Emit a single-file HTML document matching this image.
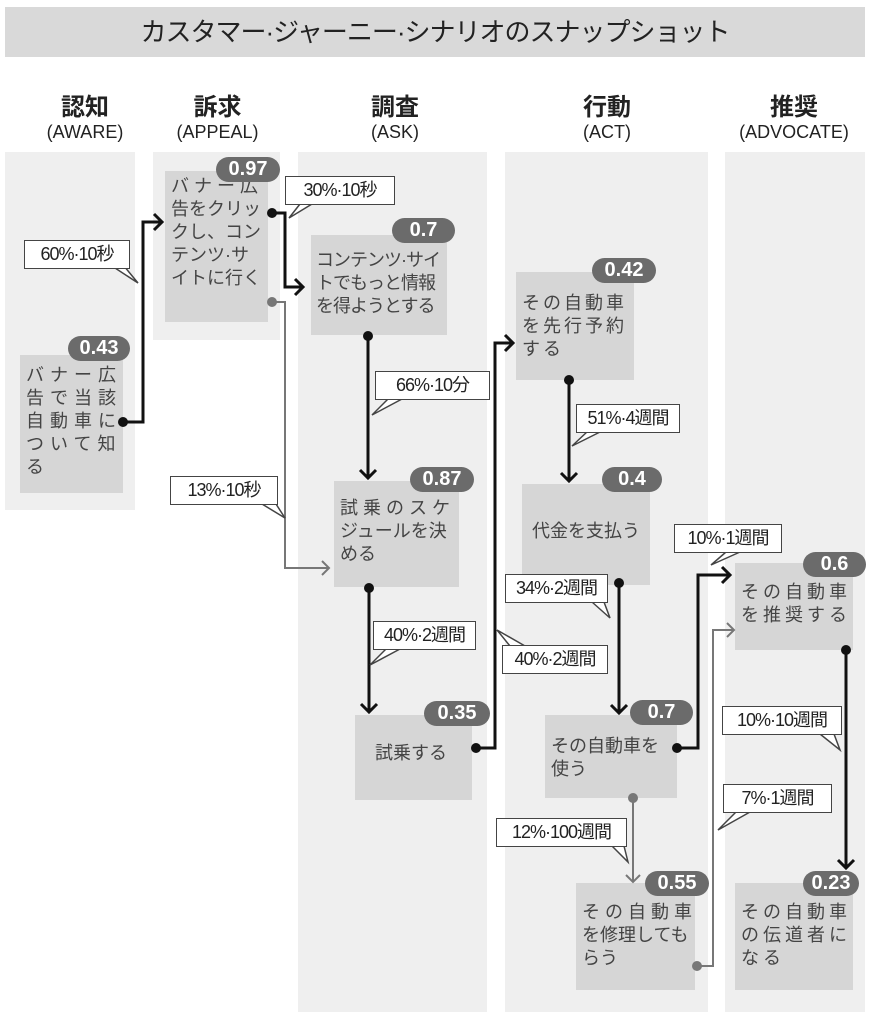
<!DOCTYPE html>
<html><head><meta charset="utf-8"><style>
*{margin:0;padding:0;box-sizing:border-box}
body{width:870px;height:1024px;background:#fff;position:relative;overflow:hidden;font-family:"Liberation Sans","Noto Sans CJK JP",sans-serif;color:#333}
.a{position:absolute}
.title{left:5px;top:7px;width:860px;height:50px;background:#d9d9d9;font-size:26px;text-align:center;line-height:50px;color:#222;letter-spacing:-1px}
.hd{text-align:center;color:#222}
.hd b{display:block;font-size:24px;line-height:27px}
.hd span{display:block;font-size:18px;line-height:22px}
.col{background:#efefef}
.n{background:#d6d6d6;font-size:18px;line-height:23px;color:#444;padding:6px 6px;white-space:nowrap}
.bd{background:#6b6b6b;color:#fff;border-radius:13px;font-size:20px;line-height:25px;height:25px;text-align:center;font-weight:bold}
.lb{background:#fff;border:1.5px solid #444;font-size:18px;line-height:26px;height:29px;text-align:center;color:#222;letter-spacing:-1px;white-space:nowrap}
</style></head><body>
<div class="a title">カスタマー·ジャーニー·シナリオのスナップショット</div>
<div class="a hd" style="left:5px;top:94px;width:160px"><b>認知</b><span>(AWARE)</span></div>
<div class="a hd" style="left:140px;top:94px;width:155px"><b>訴求</b><span>(APPEAL)</span></div>
<div class="a hd" style="left:315px;top:94px;width:160px"><b>調査</b><span>(ASK)</span></div>
<div class="a hd" style="left:527px;top:94px;width:160px"><b>行動</b><span>(ACT)</span></div>
<div class="a hd" style="left:718px;top:94px;width:152px"><b>推奨</b><span>(ADVOCATE)</span></div>

<div class="a col" style="left:5px;top:152px;width:130px;height:358px"></div>
<div class="a col" style="left:153px;top:152px;width:127px;height:188px"></div>
<div class="a col" style="left:298px;top:152px;width:189px;height:860px"></div>
<div class="a col" style="left:505px;top:152px;width:203px;height:860px"></div>
<div class="a col" style="left:725px;top:152px;width:140px;height:860px"></div>

<div class="a n" style="left:20px;top:355px;width:103px;height:138px;letter-spacing:6px;padding-top:9px">バナー広<br>告で当該<br>自動車に<br>ついて知<br>る</div>
<div class="a bd" style="left:68px;top:336px;width:62px">0.43</div>
<div class="a n" style="left:165px;top:171px;width:103px;height:151px;padding-top:4px"><span style="letter-spacing:5px">バナー広</span><br>告をクリッ<br>クし、コン<br>テンツ·サ<br>イトに行く</div>
<div class="a bd" style="left:216px;top:157px;width:64px">0.97</div>
<div class="a n" style="left:311px;top:235px;width:136px;height:100px;letter-spacing:-1px;padding-top:14px;padding-left:5px">コンテンツ·サイ<br>トでもっと情報<br>を得ようとする</div>
<div class="a bd" style="left:392px;top:218px;width:63px">0.7</div>
<div class="a n" style="left:334px;top:481px;width:125px;height:106px;padding-top:16px"><span style="letter-spacing:5px">試乗のスケ</span><br>ジュールを決<br>める</div>
<div class="a bd" style="left:410px;top:467px;width:64px">0.87</div>
<div class="a n" style="left:355px;top:715px;width:117px;height:85px;padding-top:27px;padding-left:20px">試乗する</div>
<div class="a bd" style="left:424px;top:701px;width:66px">0.35</div>
<div class="a n" style="left:516px;top:272px;width:118px;height:108px;letter-spacing:3px;padding-top:20px">その自動車<br>を先行予約<br>する</div>
<div class="a bd" style="left:592px;top:258px;width:64px">0.42</div>
<div class="a n" style="left:522px;top:484px;width:128px;height:101px;padding-top:36px;padding-left:10px">代金を支払う</div>
<div class="a bd" style="left:602px;top:467px;width:60px">0.4</div>
<div class="a n" style="left:545px;top:715px;width:132px;height:83px;padding-top:20px">その自動車を<br>使う</div>
<div class="a bd" style="left:630px;top:700px;width:63px">0.7</div>
<div class="a n" style="left:576px;top:883px;width:119px;height:107px;padding-top:18px"><span style="letter-spacing:5px">その自動車</span><br>を修理しても<br>らう</div>
<div class="a bd" style="left:645px;top:871px;width:64px">0.55</div>
<div class="a n" style="left:735px;top:563px;width:118px;height:87px;letter-spacing:4px;padding-top:18px">その自動車<br>を推奨する</div>
<div class="a bd" style="left:803px;top:552px;width:63px">0.6</div>
<div class="a n" style="left:735px;top:883px;width:118px;height:107px;letter-spacing:4px;padding-top:18px">その自動車<br>の伝道者に<br>なる</div>
<div class="a bd" style="left:803px;top:871px;width:56px">0.23</div>

<svg class="a" style="left:0;top:0" width="870" height="1024" viewBox="0 0 870 1024">
<g fill="none" stroke-linejoin="miter">
<g stroke="#111" stroke-width="3">
<path d="M123 422H143V222H162"/><path d="M154 214l8 8-8 8"/>
<path d="M272 213H285V287H303"/><path d="M295 279l8 8-8 8"/>
<path d="M368 336V478"/><path d="M360 470l8 8 8-8"/>
<path d="M369 588V712"/><path d="M361 704l8 8 8-8"/>
<path d="M476 748H495V343H513"/><path d="M505 335l8 8-8 8"/>
<path d="M569 380V481"/><path d="M561 473l8 8 8-8"/>
<path d="M619 583V713"/><path d="M611 705l8 8 8-8"/>
<path d="M677 748H698V575H730"/><path d="M722 567l8 8-8 8"/>
<path d="M846 650V868"/><path d="M838 860l8 8 8-8"/>
</g>
<g stroke="#777" stroke-width="2">
<path d="M272 302H285V568H329"/><path d="M322 561l7 7-7 7"/>
<path d="M633 798V882"/><path d="M626 875l7 7 7-7"/>
<path d="M697 966H713V630H734"/><path d="M727 623l7 7-7 7"/>
</g>
</g>
<g fill="#111"><circle cx="123" cy="422" r="5"/><circle cx="272" cy="213" r="5"/><circle cx="368" cy="336" r="5"/><circle cx="369" cy="588" r="5"/><circle cx="476" cy="748" r="5"/><circle cx="569" cy="380" r="5"/><circle cx="619" cy="583" r="5"/><circle cx="677" cy="748" r="5"/><circle cx="846" cy="650" r="5"/></g>
<g fill="#777"><circle cx="272" cy="302" r="5"/><circle cx="633" cy="798" r="5"/><circle cx="697" cy="966" r="5"/></g>
<g fill="#fff" stroke="#444" stroke-width="1.5">
<path d="M112 266L138 283L124 266"/>
<path d="M300 204L289 218L312 204"/>
<path d="M388 399L372 415L402 399"/>
<path d="M262 504L285 518L276 504"/>
<path d="M386 649L370 665L400 649"/>
<path d="M588 431L572 446L602 431"/>
<path d="M592 602L610 618L604 602"/>
<path d="M510 646L497 630L525 646"/>
<path d="M726 552L711 565L740 552"/>
<path d="M820 734L840 750L834 734"/>
<path d="M736 812L718 830L750 812"/>
<path d="M612 846L628 862L624 846"/>
</g>
</svg>

<div class="a lb" style="left:24px;top:240px;width:106px">60%·10秒</div>
<div class="a lb" style="left:285px;top:176px;width:110px">30%·10秒</div>
<div class="a lb" style="left:375px;top:371px;width:115px">66%·10分</div>
<div class="a lb" style="left:170px;top:476px;width:108px">13%·10秒</div>
<div class="a lb" style="left:373px;top:621px;width:103px">40%·2週間</div>
<div class="a lb" style="left:576px;top:404px;width:104px">51%·4週間</div>
<div class="a lb" style="left:505px;top:574px;width:103px">34%·2週間</div>
<div class="a lb" style="left:502px;top:645px;width:106px">40%·2週間</div>
<div class="a lb" style="left:674px;top:524px;width:108px">10%·1週間</div>
<div class="a lb" style="left:722px;top:706px;width:120px">10%·10週間</div>
<div class="a lb" style="left:723px;top:784px;width:109px">7%·1週間</div>
<div class="a lb" style="left:496px;top:818px;width:131px">12%·100週間</div>
</body></html>
